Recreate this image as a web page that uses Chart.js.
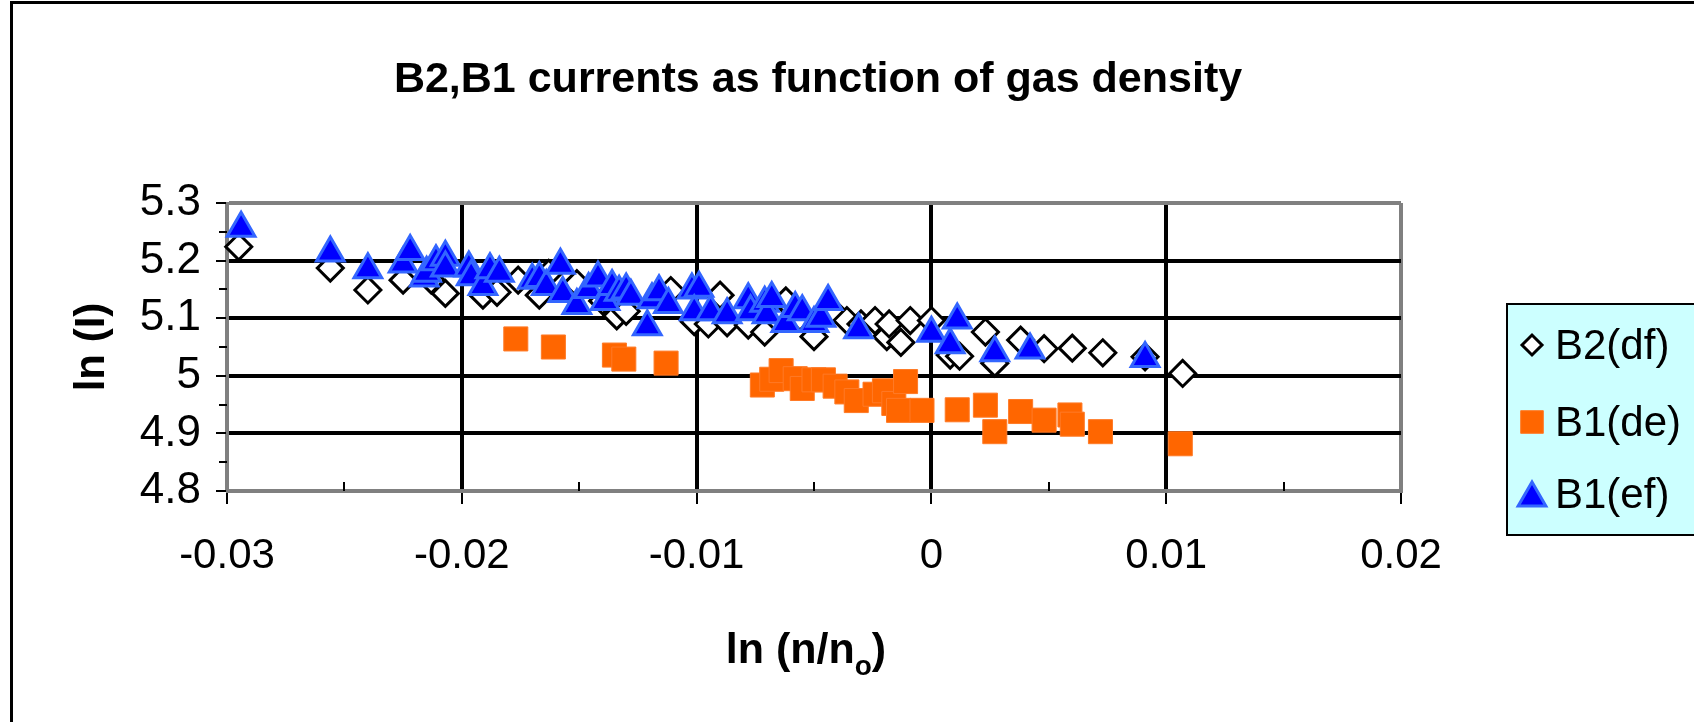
<!DOCTYPE html>
<html>
<head>
<meta charset="utf-8">
<script src="https://cdn.jsdelivr.net/npm/chart.js@4.4.1/dist/chart.umd.min.js"></script>
<style>
	html, body { margin: 0; padding: 0; background: #fff; }
	#chart { display: block; }
</style>
</head>
<body>
<canvas id="chart" width="1694" height="722"></canvas>
<script>
// Values (ln(n/no) vs ln(I)).
const seriesNames = ["B2(df)", "B1(de)", "B1(ef)"];

const xTickValues = [-0.03, -0.02, -0.01, 0, 0.01, 0.02];
const xTickLabels = ["-0.03", "-0.02", "-0.01", "0", "0.01", "0.02"];
const xMinorValues = [-0.025, -0.015, -0.005, 0.005, 0.015];

const yTickValues = [4.8, 4.9, 5.0, 5.1, 5.2, 5.3];
const yTickLabels = ["4.8", "4.9", "5", "5.1", "5.2", "5.3"];
const yMinorValues = [4.85, 4.95, 5.05, 5.15, 5.25];

const b2dfX = [
	-0.0295, -0.0256, -0.024, -0.0225, -0.0213, -0.0207, -0.0191, -0.0185, -0.0176, -0.0167,
	-0.0163, -0.0151, -0.014, -0.0134, -0.013, -0.0115, -0.0111, -0.0101, -0.0095, -0.009,
	-0.0087, -0.0078, -0.0071, -0.0066, -0.0062, -0.0056, -0.005, -0.0042, -0.0036, -0.003,
	-0.0024, -0.0019, -0.0018, -0.0013, -0.0009, 0.0, 0.0008, 0.0012, 0.0023, 0.0027,
	0.0038, 0.0048, 0.006, 0.0073, 0.0091, 0.0107,
];
const b2dfY = [
	5.224, 5.187, 5.149, 5.166, 5.166, 5.143, 5.14, 5.145, 5.166, 5.14,
	5.178, 5.16, 5.13, 5.104, 5.112, 5.14, 5.148, 5.094, 5.09, 5.14,
	5.092, 5.088, 5.076, 5.1, 5.13, 5.102, 5.068, 5.112, 5.096, 5.09,
	5.096, 5.068, 5.09, 5.058, 5.096, 5.096, 5.036, 5.034, 5.076, 5.022,
	5.062, 5.047, 5.048, 5.04, 5.033, 5.004,
];

const b1deX = [
	-0.0177, -0.0161, -0.0135, -0.0131, -0.0113, -0.0072, -0.0068, -0.0064, -0.0058, -0.0055,
	-0.005, -0.0046, -0.0041, -0.0036, -0.0032, -0.0024, -0.002, -0.0016, -0.0014, -0.0011,
	-0.0004, 0.0011, 0.0023, 0.0027, 0.0038, 0.0048, 0.0059, 0.006, 0.0072, 0.0106,
];
const b1deY = [
	5.064, 5.05, 5.036, 5.029, 5.022, 4.984, 4.994, 5.009, 4.995, 4.978,
	4.993, 4.993, 4.982, 4.972, 4.957, 4.968, 4.974, 4.952, 4.94, 4.99,
	4.94, 4.941, 4.949, 4.903, 4.938, 4.923, 4.932, 4.916, 4.903, 4.882,
];

const b1efX = [
	-0.0294, -0.0256, -0.024, -0.0225, -0.0222, -0.0216, -0.0215, -0.0211, -0.0207, -0.0207,
	-0.0197, -0.0196, -0.0191, -0.0188, -0.0184, -0.017, -0.0167, -0.0164, -0.0158, -0.0157,
	-0.0151, -0.0146, -0.0142, -0.0139, -0.0136, -0.0133, -0.013, -0.0128, -0.0121, -0.0119,
	-0.0116, -0.0112, -0.0102, -0.0099, -0.0101, -0.0094, -0.0087, -0.0078, -0.0077, -0.0071,
	-0.007, -0.0068, -0.0062, -0.0058, -0.0055, -0.005, -0.0047, -0.0044, -0.0031, 0.0,
	0.0008, 0.0011, 0.0027, 0.0042, 0.0091,
];
const b1efY = [
	5.256, 5.213, 5.184, 5.194, 5.216, 5.17, 5.178, 5.198, 5.206, 5.187,
	5.187, 5.172, 5.155, 5.184, 5.178, 5.166, 5.169, 5.155, 5.192, 5.143,
	5.122, 5.15, 5.17, 5.129, 5.155, 5.145, 5.149, 5.138, 5.085, 5.132,
	5.146, 5.124, 5.149, 5.152, 5.111, 5.111, 5.106, 5.132, 5.111, 5.126,
	5.106, 5.134, 5.091, 5.117, 5.111, 5.091, 5.1, 5.129, 5.08, 5.074,
	5.054, 5.097, 5.04, 5.045, 5.03,
];

const FONT = "'Liberation Sans', Arial, sans-serif";
const PLOT_EDGE = "#808080";

function to_points(xs, ys) {
	return xs.map((x, i) => ({ x: x, y: ys[i] }));
}

// marker styles shared by the datasets and the hand-drawn legend
const markerStyles = [
	{ pointStyle: "rectRot", radius: 13, backgroundColor: "#ffffff", borderColor: "#000000", borderWidth: 3 },
	{ pointStyle: "rect", radius: 17, backgroundColor: "#ff6600", borderColor: "#ff7a26", borderWidth: 1 },
	{ pointStyle: "triangle", radius: 16, backgroundColor: "#0000ff", borderColor: "#3366ff", borderWidth: 3 },
];

function edge_color(values) {
	return (ctx) => {
		const v = ctx.tick ? ctx.tick.value : null;
		return v === values[0] || v === values[values.length - 1] ? PLOT_EDGE : "#000000";
	};
}

// White page, outer frame and chart title.
const framePlugin = {
	id: "frame",
	beforeDraw(chart) {
		const ctx = chart.ctx;
		ctx.save();
		ctx.fillStyle = "#ffffff";
		ctx.fillRect(0, 0, chart.width, chart.height);
		ctx.strokeStyle = "#000000";
		ctx.lineWidth = 3;
		ctx.strokeRect(11.5, 2.5, chart.width + 20, chart.height + 20);

		ctx.fillStyle = "#000000";
		ctx.font = "bold 43px " + FONT;
		ctx.textAlign = "center";
		ctx.textBaseline = "alphabetic";
		ctx.fillText("B2,B1 currents as function of gas density", 818, 92);
		ctx.restore();
	},
};

// Minor ticks (outside on y, inside on x), axis titles and the legend box.
const extrasPlugin = {
	id: "extras",
	afterDraw(chart) {
		const ctx = chart.ctx;
		const area = chart.chartArea;
		const xs = chart.scales.x;
		const ys = chart.scales.y;

		ctx.save();
		ctx.strokeStyle = "#000000";
		ctx.lineWidth = 2;
		ctx.beginPath();
		xMinorValues.forEach((v) => {
			const px = Math.round(xs.getPixelForValue(v));
			ctx.moveTo(px, area.bottom);
			ctx.lineTo(px, area.bottom - 9);
		});
		yMinorValues.forEach((v) => {
			const py = Math.round(ys.getPixelForValue(v));
			ctx.moveTo(area.left, py);
			ctx.lineTo(area.left - 8, py);
		});
		ctx.stroke();

		// axis titles
		ctx.fillStyle = "#000000";
		ctx.font = "bold 42px " + FONT;
		ctx.textBaseline = "alphabetic";

		ctx.save();
		ctx.translate(104, (area.top + area.bottom) / 2);
		ctx.rotate(-Math.PI / 2);
		ctx.textAlign = "center";
		ctx.fillText("ln (I)", 0, 0);
		ctx.restore();

		const main = "ln (n/n";
		const sub = "o";
		const tail = ")";
		ctx.font = "bold 43px " + FONT;
		const wMain = ctx.measureText(main).width;
		const wTail = ctx.measureText(tail).width;
		ctx.font = "bold 28px " + FONT;
		const wSub = ctx.measureText(sub).width;
		let tx = 806 - (wMain + wSub + wTail) / 2;
		const base = 663;
		ctx.textAlign = "left";
		ctx.font = "bold 43px " + FONT;
		ctx.fillText(main, tx, base);
		tx += wMain;
		ctx.font = "bold 28px " + FONT;
		ctx.fillText(sub, tx, base + 12);
		tx += wSub;
		ctx.font = "bold 43px " + FONT;
		ctx.fillText(tail, tx, base);

		// legend
		ctx.fillStyle = "#ccffff";
		ctx.fillRect(1507, 304, 200, 231);
		ctx.strokeStyle = "#000000";
		ctx.lineWidth = 2;
		ctx.strokeRect(1507, 304, 200, 231);

		const rows = [345, 422, 494];
		const legendRadius = [10, 16, 16];
		ctx.font = "42px " + FONT;
		ctx.textBaseline = "middle";
		seriesNames.forEach((name, i) => {
			const st = markerStyles[i];
			ctx.fillStyle = st.backgroundColor;
			ctx.strokeStyle = st.borderColor;
			ctx.lineWidth = st.borderWidth;
			Chart.helpers.drawPoint(
				ctx,
				{ pointStyle: st.pointStyle, radius: legendRadius[i], rotation: 0, borderWidth: st.borderWidth },
				1532,
				i === 2 ? rows[i] + 4 : rows[i]
			);
			ctx.fillStyle = "#000000";
			ctx.fillText(name, 1555, rows[i] + 2);
		});
		ctx.restore();
	},
};

const seriesPoints = [to_points(b2dfX, b2dfY), to_points(b1deX, b1deY), to_points(b1efX, b1efY)];
const seriesOrder = [2, 1, 0];

new Chart(document.getElementById("chart"), {
	type: "scatter",
	data: {
		datasets: seriesNames.map((name, i) => ({
			label: name,
			data: seriesPoints[i],
			pointStyle: markerStyles[i].pointStyle,
			pointRadius: markerStyles[i].radius,
			pointHoverRadius: markerStyles[i].radius,
			backgroundColor: markerStyles[i].backgroundColor,
			borderColor: markerStyles[i].borderColor,
			pointBorderWidth: markerStyles[i].borderWidth,
			order: seriesOrder[i],
			clip: false,
		})),
	},
	options: {
		responsive: false,
		animation: false,
		devicePixelRatio: 1,
		layout: { padding: { top: 203, right: 293, bottom: 0, left: 0 } },
		plugins: {
			legend: { display: false },
			tooltip: { enabled: false },
			title: { display: false },
		},
		scales: {
			x: {
				type: "linear",
				min: xTickValues[0],
				max: xTickValues[xTickValues.length - 1],
				afterFit: (s) => {
					s.height = 231;
				},
				afterBuildTicks: (s) => {
					s.ticks = xTickValues.map((v) => ({ value: v }));
				},
				ticks: {
					callback: (v, i) => xTickLabels[i],
					color: "#000000",
					font: { family: FONT, size: 42 },
					padding: 27,
					maxRotation: 0,
					autoSkip: false,
				},
				grid: {
					color: edge_color(xTickValues),
					lineWidth: 4,
					tickLength: 13,
					tickWidth: 2,
					tickColor: "#000000",
				},
				border: { color: PLOT_EDGE, width: 3 },
			},
			y: {
				type: "linear",
				min: yTickValues[0],
				max: yTickValues[yTickValues.length - 1],
				afterFit: (s) => {
					s.width = 227;
				},
				afterBuildTicks: (s) => {
					s.ticks = yTickValues.map((v) => ({ value: v }));
				},
				ticks: {
					callback: (v, i) => yTickLabels[i],
					color: "#000000",
					font: { family: FONT, size: 44 },
					padding: 15,
					autoSkip: false,
				},
				grid: {
					color: edge_color(yTickValues),
					lineWidth: 4,
					tickLength: 11,
					tickWidth: 2,
					tickColor: "#000000",
				},
				border: { color: PLOT_EDGE, width: 3 },
			},
		},
	},
	plugins: [framePlugin, extrasPlugin],
});
</script>
</body>
</html>
